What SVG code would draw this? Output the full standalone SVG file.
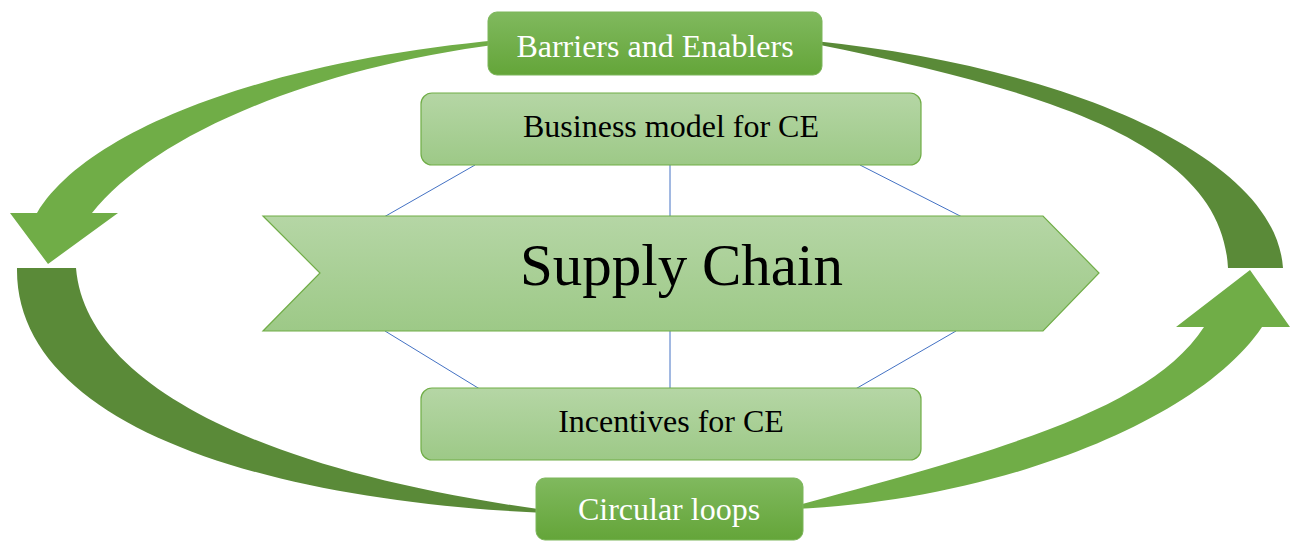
<svg xmlns="http://www.w3.org/2000/svg" width="1301" height="541" viewBox="0 0 1301 541">
<defs>
<linearGradient id="gLight" x1="0" y1="0" x2="0" y2="1">
<stop offset="0" stop-color="#B5D6A5"/>
<stop offset="1" stop-color="#9DC987"/>
</linearGradient>
<linearGradient id="gDark" x1="0" y1="0" x2="0" y2="1">
<stop offset="0" stop-color="#80B95E"/>
<stop offset="1" stop-color="#64A539"/>
</linearGradient>
<style>
.light{fill:url(#gLight);stroke:#70AD47;stroke-width:1.2}
.dark{fill:url(#gDark);stroke:#7DB65B;stroke-width:1}
.arrowL{fill:#70AD47}
.arrowD{fill:#5A8A38}
.link{stroke:#4472C4;stroke-width:1;fill:none}
.t{font-family:"Liberation Serif","Times New Roman",serif;text-anchor:middle}
.tb{fill:#000000;font-size:32px}
.tw{fill:#FFFFFF;font-size:32px}
</style>
</defs>
<rect width="1301" height="541" fill="#FFFFFF"/>
<g id="cycle">
<path class="arrowL" d="M500,40 C280,60 90,125 37,213 L10,213 L48,264 L118,213 L92,213 C150,140 300,70 500,44 Z"/>
<path class="arrowD" d="M17,268 C15,420 250,500 545,513 L545,510 C250,470 85,380 76,268 Z"/>
<path class="arrowL" d="M795,509 C1000,500 1200,420 1262,327 L1290,327 L1250,270 L1176,327 L1204,327 C1150,410 1000,450 795,506 Z"/>
<path class="arrowD" d="M815,41 C1050,65 1275,150 1283,268 L1228,268 C1222,150 1070,95 815,44 Z"/>
</g>
<g id="connectors">
<line class="link" x1="475" y1="165" x2="384" y2="217"/>
<line class="link" x1="670" y1="165" x2="670" y2="217"/>
<line class="link" x1="860" y1="165" x2="966" y2="219"/>
<line class="link" x1="385" y1="331" x2="483" y2="391"/>
<line class="link" x1="670" y1="331" x2="670" y2="388"/>
<line class="link" x1="956" y1="331" x2="852" y2="391"/>
</g>
<g id="barriers">
<rect class="dark" x="488" y="12" width="334" height="63" rx="9"/>
<text class="t tw" x="655" y="57">Barriers and Enablers</text>
</g>
<g id="business">
<rect class="light" x="421" y="93" width="500" height="72" rx="11"/>
<text class="t tb" x="671" y="137">Business model for CE</text>
</g>
<g id="supply">
<polygon class="light" points="263,216 1043,216 1099,273 1043,331 263,331 320,273"/>
<text class="t" x="681.5" y="285" font-size="59" fill="#000000">Supply Chain</text>
</g>
<g id="incentives">
<rect class="light" x="421" y="388" width="500" height="72" rx="11"/>
<text class="t tb" x="671" y="432">Incentives for CE</text>
</g>
<g id="circular">
<rect class="dark" x="536" y="478" width="267" height="62" rx="9"/>
<text class="t tw" x="669" y="520">Circular loops</text>
</g>
</svg>
